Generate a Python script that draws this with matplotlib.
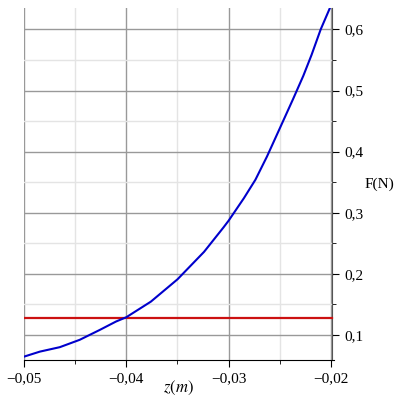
import matplotlib
matplotlib.use("Agg")
import matplotlib.pyplot as plt
from matplotlib.ticker import MultipleLocator, FuncFormatter

z = [-0.05, -0.04845, -0.0465, -0.04456, -0.04262, -0.041, -0.04, -0.0376,
     -0.035, -0.0324, -0.0305, -0.03, -0.0285, -0.02738, -0.02625, -0.025,
     -0.0237, -0.0227, -0.0219, -0.0210, -0.0201]
F = [0.0645, 0.0727, 0.080, 0.092, 0.108, 0.122, 0.129, 0.1545, 0.191, 0.236,
     0.276, 0.287, 0.324, 0.354, 0.392, 0.438, 0.486, 0.524, 0.558, 0.600, 0.635]
F_const = 0.128

plt.rcParams['font.family'] = ['Liberation Serif', 'DejaVu Serif']
plt.rcParams['mathtext.fontset'] = 'stix'

fig = plt.figure(figsize=(4, 4), dpi=100)
ax = fig.add_axes([0.06, 0.10, 0.775, 0.88])

ax.set_xlim(-0.05, -0.0197)
ax.set_ylim(0.059, 0.635)

ax.xaxis.set_major_locator(MultipleLocator(0.01))
ax.xaxis.set_minor_locator(MultipleLocator(0.005))
ax.yaxis.set_major_locator(MultipleLocator(0.1))
ax.yaxis.set_minor_locator(MultipleLocator(0.05))

ax.xaxis.set_major_formatter(FuncFormatter(lambda v, p: f"{v:.2f}".replace('.', ',').replace('-', '\u2212')))
ax.yaxis.set_major_formatter(FuncFormatter(lambda v, p: f"{v:.1f}".replace('.', ',')))

ax.grid(which='major', color='#999999', linewidth=1.0)
ax.grid(which='minor', color='#e4e4e4', linewidth=1.0)
ax.set_axisbelow(True)

ax.plot([z[0], -0.0199], [F_const, F_const], color='#cc1111', linewidth=1.6, zorder=3)
ax.plot(z, F, color='#0000cc', linewidth=1.5, zorder=4)

for s in ['top', 'left']:
    ax.spines[s].set_visible(False)
ax.spines['bottom'].set_color('black')
ax.spines['right'].set_color('#555555')
ax.spines['right'].set_position(('data', -0.0199))

ax.yaxis.tick_right()
ax.tick_params(axis='both', which='major', direction='out', length=5, labelsize=11, colors='black')
ax.tick_params(axis='both', which='minor', direction='out', length=3)
ax.tick_params(axis='x', pad=4)
ax.tick_params(axis='y', pad=4)

fig.text(0.445, 0.03, '$z(m)$', fontsize=12, ha='center', va='center')
fig.text(0.912, 0.54, 'F(N)', fontsize=11, ha='left', va='center')

fig.savefig('out.png', dpi=100)
